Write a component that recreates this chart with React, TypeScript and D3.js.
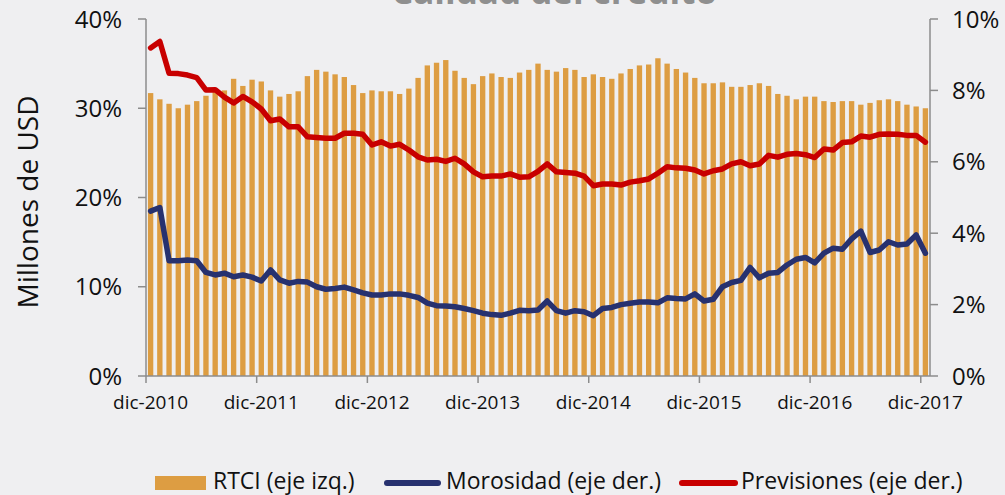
import React from "react";
import * as d3 from "d3";

const tickLabels = ["dic-2010", "dic-2011", "dic-2012", "dic-2013", "dic-2014", "dic-2015", "dic-2016", "dic-2017"];

const rtci = [
  31.7, 31.0, 30.5, 30.0, 30.4, 30.8, 31.4, 31.8, 32.0, 33.3, 32.5, 33.2,
  33.0, 32.0, 31.3, 31.6, 31.9, 33.6, 34.3, 34.1, 33.8, 33.5, 32.6, 31.7,
  32.0, 31.9, 31.9, 31.6, 32.2, 33.4, 34.8, 35.1, 35.4, 34.2, 33.4, 32.7,
  33.6, 33.9, 33.5, 33.4, 34.0, 34.3, 35.0, 34.3, 34.1, 34.5, 34.3, 33.5,
  33.8, 33.5, 33.3, 33.9, 34.4, 34.8, 34.9, 35.6, 35.0, 34.4, 34.0, 33.4,
  32.8, 32.8, 32.9, 32.4, 32.4, 32.6, 32.8, 32.5, 31.6, 31.4, 31.0, 31.3,
  31.3, 30.8, 30.7, 30.8, 30.8, 30.4, 30.6, 30.9, 31.0, 30.8, 30.4, 30.2,
  30.0,
];

const morosidad = [
  4.62, 4.72, 3.23, 3.23, 3.25, 3.23, 2.90, 2.83, 2.88, 2.78, 2.83, 2.77,
  2.66, 2.97, 2.69, 2.60, 2.65, 2.63, 2.50, 2.43, 2.45, 2.49, 2.41, 2.33,
  2.27, 2.27, 2.30, 2.30, 2.26, 2.20, 2.04, 1.97, 1.96, 1.94, 1.89, 1.83,
  1.76, 1.72, 1.70, 1.76, 1.84, 1.83, 1.85, 2.10, 1.83, 1.76, 1.83, 1.80,
  1.69, 1.89, 1.92, 2.00, 2.04, 2.07, 2.07, 2.05, 2.19, 2.17, 2.16, 2.30,
  2.10, 2.15, 2.50, 2.62, 2.68, 3.04, 2.75, 2.88, 2.90, 3.11, 3.27, 3.32,
  3.17, 3.44, 3.58, 3.55, 3.84, 4.06, 3.46, 3.53, 3.76, 3.67, 3.70, 3.95,
  3.44,
];

const previsiones = [
  9.19, 9.37, 8.48, 8.47, 8.43, 8.36, 8.01, 8.02, 7.81, 7.65, 7.83, 7.68,
  7.48, 7.15, 7.20, 6.98, 6.98, 6.70, 6.68, 6.66, 6.66, 6.80, 6.80, 6.77,
  6.47, 6.56, 6.44, 6.49, 6.33, 6.14, 6.05, 6.07, 6.01, 6.10, 5.94, 5.72,
  5.58, 5.60, 5.60, 5.66, 5.57, 5.58, 5.73, 5.94, 5.72, 5.70, 5.68, 5.60,
  5.33, 5.38, 5.38, 5.35, 5.43, 5.47, 5.52, 5.68, 5.86, 5.83, 5.82, 5.77,
  5.66, 5.75, 5.80, 5.94, 6.00, 5.89, 5.94, 6.18, 6.13, 6.21, 6.23, 6.20,
  6.12, 6.36, 6.33, 6.54, 6.56, 6.72, 6.69, 6.77, 6.78, 6.77, 6.74, 6.74,
  6.55,
];

const leftTicks = [0, 10, 20, 30, 40];
const rightTicks = [0, 2, 4, 6, 8, 10];

const W = 1005;
const H = 495;
const X0 = 146;
const X1 = 930;
const Y0 = 376;
const Y1 = 19;

const FONT = "'Open Sans', sans-serif";
const BAR = "#dd9d42";
const BLUE = "#27316f";
const RED = "#c80000";
const AXIS = "#8c8c8c";

export default function App() {
  const idx = rtci.map((_, i) => i);
  const x = d3.scaleBand<number>().domain(idx).range([X0, X1]).paddingInner(0.42).paddingOuter(0.21);
  const yL = d3.scaleLinear().domain([0, 40]).range([Y0, Y1]);
  const yR = d3.scaleLinear().domain([0, 10]).range([Y0, Y1]);
  const step = x.step();
  const bw = x.bandwidth();
  const cx = (i: number) => (x(i) as number) + bw / 2;
  const leftEdge = (i: number) => (x(i) as number) - (step - bw) / 2;

  const lineM = d3.line<number>().x((_, i) => cx(i)).y((d) => yR(d));

  return (
    <svg width={W} height={H} style={{ position: "absolute", left: 0, top: 0, background: "#efeff1" }}>
      <rect x={0} y={0} width={W} height={H} fill="#efeff1" />
      <text x={554} y={4} textAnchor="middle" fontFamily={FONT} fontWeight={700} fontSize={35} fill="#8f8f8f">
        Calidad del crédito
      </text>

      {rtci.map((v, i) => (
        <rect key={i} x={x(i)} y={yL(v)} width={bw} height={Y0 - yL(v)} fill={BAR} />
      ))}

      <path d={lineM(morosidad) || ""} fill="none" stroke={BLUE} strokeWidth={5.5} strokeLinejoin="round" strokeLinecap="round" />
      <path d={lineM(previsiones) || ""} fill="none" stroke={RED} strokeWidth={5.5} strokeLinejoin="round" strokeLinecap="round" />

      {/* left axis */}
      <line x1={X0} x2={X0} y1={Y1} y2={Y0} stroke={AXIS} strokeWidth={1.5} />
      {leftTicks.map((t) => (
        <g key={t}>
          <line x1={X0 - 8} x2={X0} y1={yL(t)} y2={yL(t)} stroke={AXIS} strokeWidth={1.5} />
          <text x={122} y={yL(t)} dy="0.36em" textAnchor="end" fontFamily={FONT} fontSize={24} fill="#111">
            {t}%
          </text>
        </g>
      ))}

      {/* right axis */}
      <line x1={X1} x2={X1} y1={Y1} y2={Y0} stroke={AXIS} strokeWidth={1.5} />
      {rightTicks.map((t) => (
        <g key={t}>
          <line x1={X1} x2={X1 + 8} y1={yR(t)} y2={yR(t)} stroke={AXIS} strokeWidth={1.5} />
          <text x={952} y={yR(t)} dy="0.36em" textAnchor="start" fontFamily={FONT} fontSize={24} fill="#111">
            {t}%
          </text>
        </g>
      ))}

      {/* bottom axis */}
      <line x1={X0} x2={X1} y1={Y0} y2={Y0} stroke={AXIS} strokeWidth={1.5} />
      {tickLabels.map((lab, k) => {
        const i = k * 12;
        return (
          <g key={lab}>
            <line x1={leftEdge(i)} x2={leftEdge(i)} y1={Y0} y2={Y0 + 7} stroke={AXIS} strokeWidth={1.5} />
            <text x={cx(i)} y={409} textAnchor="middle" fontFamily={FONT} fontSize={19} fill="#111">
              {lab}
            </text>
          </g>
        );
      })}

      <text
        transform={`translate(38,202) rotate(-90)`}
        textAnchor="middle"
        fontFamily={FONT}
        fontSize={28}
        fill="#111"
      >
        Millones de USD
      </text>

      {/* legend */}
      <rect x={155} y={476} width={51} height={14} fill={BAR} />
      <text x={213} y={489} fontFamily={FONT} fontSize={23} fill="#111">RTCI (eje izq.)</text>
      <line x1={387} x2={438} y1={483} y2={483} stroke={BLUE} strokeWidth={6} strokeLinecap="round" />
      <text x={446} y={489} fontFamily={FONT} fontSize={23} fill="#111">Morosidad (eje der.)</text>
      <line x1={682} x2={735} y1={483} y2={483} stroke={RED} strokeWidth={6} strokeLinecap="round" />
      <text x={741} y={489} fontFamily={FONT} fontSize={23} fill="#111">Previsiones (eje der.)</text>
    </svg>
  );
}
